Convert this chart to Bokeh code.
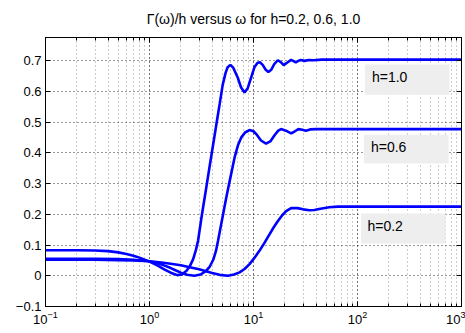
from bokeh.plotting import figure
from bokeh.models import Range1d, LogAxis, LinearAxis, FixedTicker, CustomJSTickFormatter, BoxAnnotation, Label, LogTicker
from bokeh.embed import file_html
from bokeh.resources import INLINE

# ---------------- data ----------------
w_h10 = [0.1, 0.2, 0.3, 0.4, 0.5, 0.6, 0.7, 0.8, 0.9, 1.0, 1.2, 1.4, 1.6, 1.85, 2.05, 2.27, 2.45,
         2.63, 2.8, 2.93, 3.18, 3.55, 3.79, 4.05, 4.52, 4.73, 5.05, 5.39, 5.64, 6.0, 6.4, 7.05, 7.6,
         8.2, 8.8, 9.5, 10.2, 10.9, 11.5, 12.3, 13.1, 13.9, 14.8, 15.8, 17.1, 18.3, 19.5, 21.0, 23.0,
         24.3, 25.5, 27.0, 28.5, 31.0, 34.0, 38.0, 45.0, 100.0, 1000.0]
g_h10 = [0.083, 0.083, 0.082, 0.080, 0.076, 0.071, 0.065, 0.059, 0.052, 0.046, 0.033, 0.020, 0.010,
         0.002, 0.004, 0.016, 0.032, 0.054, 0.085, 0.114, 0.195, 0.296, 0.357, 0.417, 0.518, 0.559,
         0.620, 0.660, 0.678, 0.686, 0.676, 0.645, 0.612, 0.596, 0.610, 0.645, 0.678, 0.692, 0.695,
         0.685, 0.670, 0.663, 0.670, 0.688, 0.701, 0.695, 0.685, 0.693, 0.702, 0.698, 0.694, 0.699,
         0.702, 0.699, 0.702, 0.701, 0.703, 0.703, 0.703]

w_h06 = [0.1, 0.3, 0.5, 0.7, 0.9, 1.0, 1.2, 1.4, 1.6, 1.8, 2.0, 2.3, 2.7, 3.1, 3.5, 3.8, 4.1, 4.35,
         4.56, 5.0, 5.48, 6.0, 6.58, 7.1, 7.63, 8.3, 9.16, 10.0, 10.8, 11.8, 13.2, 14.5, 16.0, 17.3,
         18.4, 20.5, 23.0, 25.0, 27.0, 29.5, 31.9, 35.0, 40.0, 1000.0]
g_h06 = [0.055, 0.055, 0.054, 0.052, 0.049, 0.047, 0.041, 0.033, 0.025, 0.017, 0.010, 0.003, 0.000,
         0.004, 0.016, 0.030, 0.052, 0.080, 0.114, 0.185, 0.255, 0.320, 0.385, 0.425, 0.450, 0.466,
         0.474, 0.470, 0.458, 0.440, 0.430, 0.437, 0.458, 0.472, 0.477, 0.472, 0.463, 0.470, 0.477,
         0.475, 0.472, 0.476, 0.477, 0.477]

w_h02 = [0.1, 0.3, 0.5, 0.7, 1.0, 1.3, 1.6, 2.0, 2.5, 3.0, 3.5, 4.0, 4.73, 5.68, 6.5, 7.35, 8.2,
         9.16, 10.2, 11.4, 12.7, 14.2, 15.6, 17.1, 18.8, 20.6, 23.0, 26.5, 30.0, 34.4, 38.5, 42.8,
         53.3, 65.0, 1000.0]
g_h02 = [0.052, 0.052, 0.051, 0.050, 0.047, 0.043, 0.039, 0.034, 0.027, 0.021, 0.015, 0.009, 0.003,
         0.000, 0.004, 0.011, 0.022, 0.038, 0.058, 0.081, 0.106, 0.134, 0.157, 0.177, 0.196, 0.210,
         0.220, 0.220, 0.216, 0.213, 0.214, 0.217, 0.223, 0.225, 0.225]

y_ticks = [-0.1, 0.0, 0.1, 0.2, 0.3, 0.4, 0.5, 0.6, 0.7]
labels = ["h=1.0", "h=0.6", "h=0.2"]

FONT = "Liberation Sans"

p = figure(width=465, height=333, x_axis_type="log", output_backend="svg", toolbar_location=None,
           x_range=Range1d(0.1, 1000), y_range=Range1d(-0.1, 0.775),
           min_border_left=45, min_border_right=2, min_border_top=37, min_border_bottom=27,
           background_fill_color="white", border_fill_color="white")
p.title.text = "\u0393(\u03c9)/h versus \u03c9 for h=0.2, 0.6, 1.0"
p.title.align = "center"
p.title.text_font = FONT
p.title.text_font_size = "14px"
p.title.text_font_style = "normal"
p.title.text_color = "black"
p.title.standoff = 12
p.outline_line_color = "black"
p.outline_line_width = 1

yfmt = CustomJSTickFormatter(code="""
if (Math.abs(tick) < 1e-9) return "0";
return tick.toFixed(1).replace("-", "\\u2212");
""")

for ax in p.xaxis:
    ax.ticker = LogTicker(desired_num_ticks=5, num_minor_ticks=10)
for ax in p.yaxis:
    ax.ticker = FixedTicker(ticks=y_ticks)
    ax.formatter = yfmt

for ax in list(p.xaxis) + list(p.yaxis):
    ax.major_tick_in = 5
    ax.major_tick_out = 0
    ax.minor_tick_in = 3
    ax.minor_tick_out = 0
    ax.axis_line_color = "black"
    ax.major_label_text_font = FONT
    ax.major_label_text_font_size = "13px"
    ax.major_label_text_color = "black"
    ax.major_label_standoff = 4
for ax in p.yaxis:
    ax.minor_tick_line_color = None

blank = CustomJSTickFormatter(code="return ' ';")
top = LogAxis(ticker=LogTicker(desired_num_ticks=5, num_minor_ticks=10), formatter=blank,
              major_label_text_font_size="2px", major_label_standoff=0,
              major_tick_in=5, major_tick_out=0, minor_tick_in=3, minor_tick_out=0)
right = LinearAxis(ticker=FixedTicker(ticks=y_ticks), formatter=blank, major_label_text_font_size="2px",
                   major_label_standoff=0, major_tick_in=5, major_tick_out=0,
                   minor_tick_line_color=None)
p.add_layout(top, "above")
p.add_layout(right, "right")

p.xgrid.grid_line_color = "#333333"
p.xgrid.grid_line_dash = "1 3"
p.xgrid.minor_grid_line_color = "#999999"
p.xgrid.minor_grid_line_dash = "1 3"
p.ygrid.grid_line_color = "#333333"
p.ygrid.grid_line_dash = "1 3"

for w, g in [(w_h02, g_h02), (w_h06, g_h06), (w_h10, g_h10)]:
    p.line(w, g, line_color="#0000ff", line_width=2.6)

boxes = [(118, 767, 0.687, 0.589), (115.4, 751, 0.459, 0.365), (108, 703, 0.2024, 0.105)]
texts = [(137.7, 0.645), (134.6, 0.420), (124.7, 0.163)]
for (l, r, t, b), (tx, ty), lab in zip(boxes, texts, labels):
    p.add_layout(BoxAnnotation(left=l, right=r, top=t, bottom=b, fill_color="#eeeeee",
                               fill_alpha=1.0, line_color=None, level="overlay"))
    p.add_layout(Label(x=tx, y=ty, text=lab, text_font=FONT, text_font_size="14px",
                       text_baseline="middle", text_color="black", level="overlay"))

open("out.html", "w").write(file_html(p, INLINE))
